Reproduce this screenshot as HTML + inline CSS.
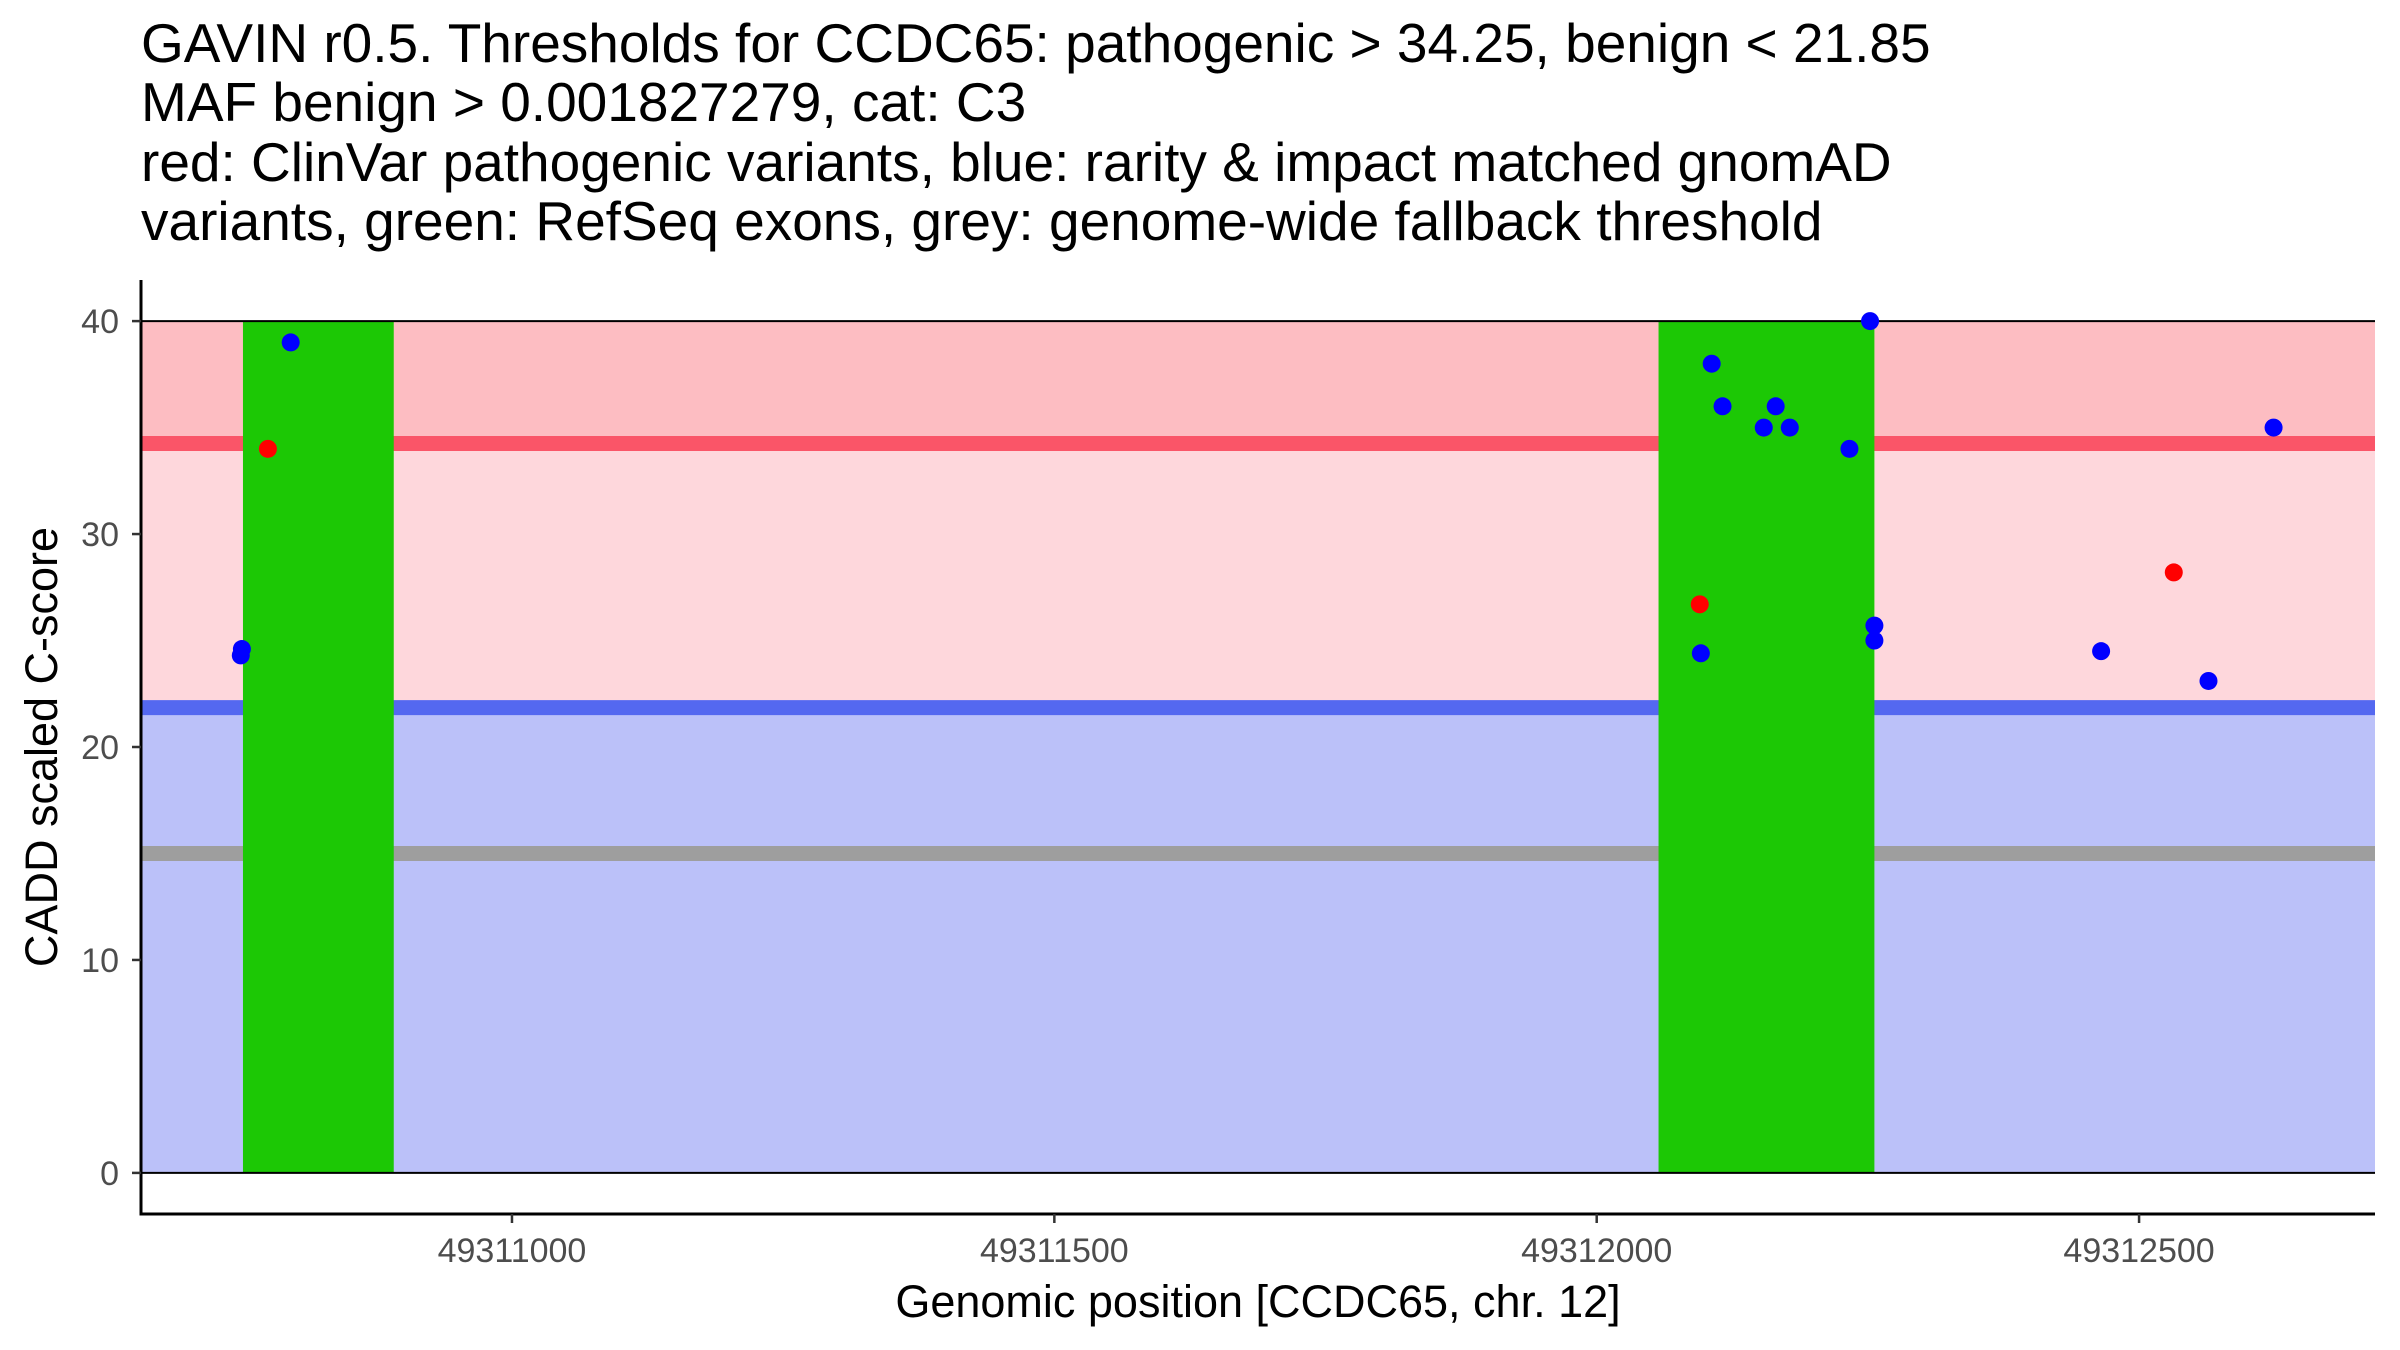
<!DOCTYPE html>
<html><head><meta charset="utf-8"><style>
html,body{margin:0;padding:0;background:#fff;}
svg{display:block;font-family:"Liberation Sans",Arial,sans-serif;}
</style></head><body>
<svg id="chart" width="2400" height="1350" viewBox="0 0 2400 1350">
<g font-size="55" fill="#000">
<text x="141" y="62">GAVIN r0.5. Thresholds for CCDC65: pathogenic &gt; 34.25, benign &lt; 21.85</text>
<text x="141" y="121">MAF benign &gt; 0.001827279, cat: C3</text>
<text x="141" y="181">red: ClinVar pathogenic variants, blue: rarity &amp; impact matched gnomAD</text>
<text x="141" y="240">variants, green: RefSeq exons, grey: genome-wide fallback threshold</text>
</g>
<g id="plot"></g>
<text x="1258" y="1317" font-size="45" text-anchor="middle" fill="#000">Genomic position [CCDC65, chr. 12]</text>
<text transform="translate(57,747) rotate(-90)" font-size="45" text-anchor="middle" fill="#000">CADD scaled C-score</text>
</svg>
<script>
const xTicks = [49311000, 49311500, 49312000, 49312500];
const yTicks = [0, 10, 20, 30, 40];
const pathoThreshold = 34.25;
const benignThreshold = 21.85;
const fallbackThreshold = 15;
const exonStarts = [49310752, 49312057];
const exonEnds = [49310891, 49312256];
const blueX = [49310750, 49310751, 49310796, 49312106, 49312116, 49312154, 49312165, 49312178, 49312233, 49312252, 49312256, 49312256, 49312096, 49312465, 49312564, 49312624];
const blueY = [24.3, 24.6, 39, 38, 36, 35, 36, 35, 34, 40, 25.7, 25.0, 24.4, 24.5, 23.1, 35];
const redX = [49310775, 49312095, 49312532];
const redY = [34, 26.7, 28.2];

const L=141, R=2375, T=280, B=1214;
const xMin=49310658, xMax=49312717.5;
const yMin=-1.93, yMax=41.93;
const sx=v=>L+(v-xMin)/(xMax-xMin)*(R-L);
const sy=v=>B-(v-yMin)/(yMax-yMin)*(B-T);
const NS="http://www.w3.org/2000/svg";
const g=document.getElementById('plot');
function mk(tag,attrs,parent){const e=document.createElementNS(NS,tag);for(const k in attrs)e.setAttribute(k,attrs[k]);(parent||g).appendChild(e);return e;}

let r;
r=mk('rect',{x:L,y:sy(40),width:R-L,height:sy(pathoThreshold)-sy(40),fill:'#fdbdc2'});


r=mk('rect',{x:L,y:sy(pathoThreshold),width:R-L,height:sy(benignThreshold)-sy(pathoThreshold),fill:'#fed7dc'});


r=mk('rect',{x:L,y:sy(benignThreshold),width:R-L,height:sy(0)-sy(benignThreshold),fill:'#bbc1f9'});



const th=[[pathoThreshold,'#fa5568','pathogenic-threshold-line'],[benignThreshold,'#5468f0','benign-threshold-line'],[fallbackThreshold,'#9e9e9e','fallback-threshold-line']];
th.forEach(t=>{
 const l=mk('line',{x1:L,x2:R,y1:sy(t[0]),y2:sy(t[0]),stroke:t[1],'stroke-width':15});
 
 
});

for(let i=0;i<exonStarts.length;i++){
 const e=mk('rect',{x:sx(exonStarts[i]),y:sy(40),width:sx(exonEnds[i])-sx(exonStarts[i]),height:sy(0)-sy(40),fill:'#1cc805'});
 
 
}

[40,0].forEach(v=>{
 const l=mk('line',{x1:L,x2:R,y1:sy(v),y2:sy(v),stroke:'#000','stroke-width':2});
 
 
});

for(let i=0;i<blueX.length;i++){
 const c=mk('circle',{cx:sx(blueX[i]),cy:sy(blueY[i]),r:9,fill:'#0000ff'});
 
 
}
for(let i=0;i<redX.length;i++){
 const c=mk('circle',{cx:sx(redX[i]),cy:sy(redY[i]),r:9,fill:'#ff0000'});
 
 
}

let a=mk('line',{x1:L,x2:L,y1:T,y2:B+1.5,stroke:'#000','stroke-width':3});


a=mk('line',{x1:L-1.5,x2:R,y1:B,y2:B,stroke:'#000','stroke-width':3});



yTicks.forEach(v=>{
 const t=mk('line',{x1:L-9,x2:L,y1:sy(v),y2:sy(v),stroke:'#333','stroke-width':2.5});
 
 
 const tx=mk('text',{x:L-22,y:sy(v)+12,'font-size':34,'text-anchor':'end',fill:'#4d4d4d'});
 tx.textContent=v;
 
 
});
xTicks.forEach(v=>{
 const t=mk('line',{x1:sx(v),x2:sx(v),y1:B,y2:B+9,stroke:'#333','stroke-width':2.5});
 
 
 const tx=mk('text',{x:sx(v),y:1262,'font-size':34,'text-anchor':'middle',fill:'#4d4d4d'});
 tx.textContent=v;
 
 
});
</script>
</body></html>
